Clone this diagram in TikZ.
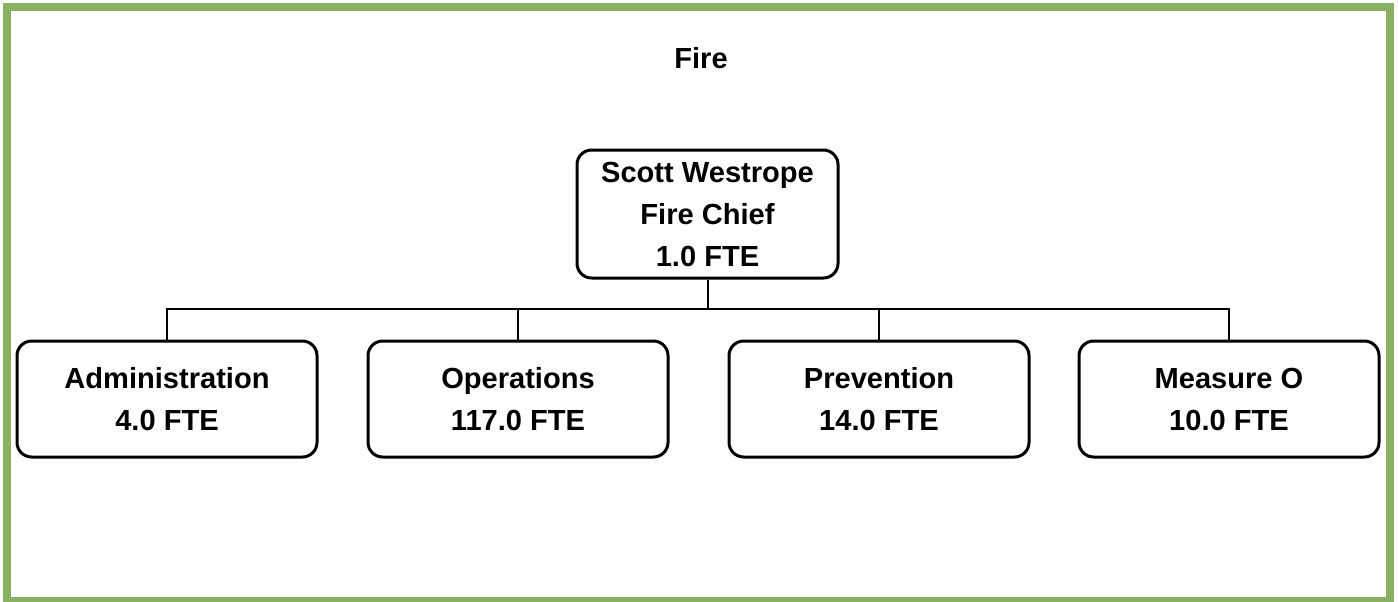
\documentclass[tikz,border=0pt]{standalone}
\usepackage{fontspec}
\setmainfont{Liberation Sans}
\definecolor{frame}{RGB}{138,176,98}
\begin{document}
\begin{tikzpicture}[x=0.75pt,y=-0.75pt,
  orgbox/.style={draw=black, line width=2.25pt, rounded corners=11pt, fill=white,
    align=center, inner sep=0pt, font=\bfseries\fontsize{21.8}{31.5}\selectfont},
  unit/.style={orgbox, minimum width=225pt, minimum height=87pt},
  link/.style={draw=black, line width=1.5pt}]
  \useasboundingbox (0,0) rectangle (1398,601);
  % page frame
  \draw[frame, line width=6pt] (7,7) rectangle (1390,601);
  % heading
  \node[anchor=base, font=\bfseries\fontsize{21.8}{26}\selectfont] (title) at (701,68) {Fire};
  % chief
  \node[orgbox, minimum width=195.75pt, minimum height=96pt] (chief) at (707.5,214)
    {Scott Westrope\\Fire Chief\\1.0 FTE};
  % divisions
  \node[unit] (admin)   at (167,399)  {Administration\\4.0 FTE};
  \node[unit] (ops)     at (518,399)  {Operations\\117.0 FTE};
  \node[unit] (prev)    at (879,399)  {Prevention\\14.0 FTE};
  \node[unit] (measure) at (1229,399) {Measure O\\10.0 FTE};
  % reporting lines
  \coordinate (bus) at (707.5,309);
  \draw[link] (chief.south) -- (bus);
  \draw[link] (admin.north) -- (admin.north |- bus) -- (measure.north |- bus) -- (measure.north);
  \draw[link] (ops.north) -- (ops.north |- bus);
  \draw[link] (prev.north) -- (prev.north |- bus);
\end{tikzpicture}
\end{document}
